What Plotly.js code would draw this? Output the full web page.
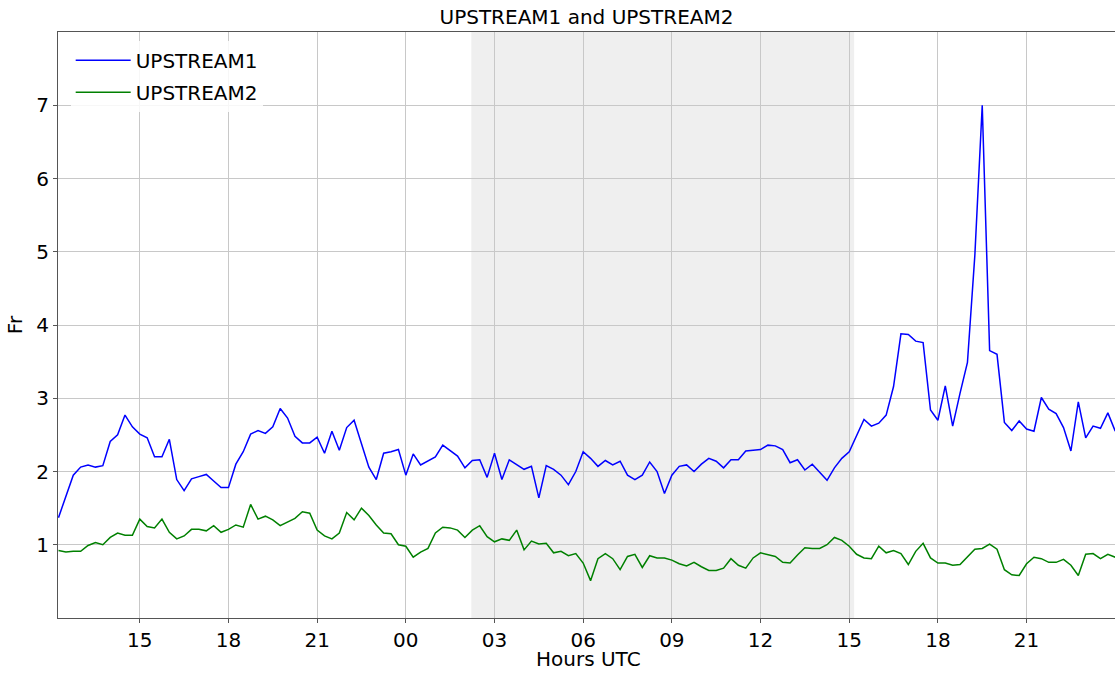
<!DOCTYPE html>
<html>
<head>
<meta charset="utf-8">
<script src="https://cdn.plot.ly/plotly-3.0.1.min.js"></script>
<style>html,body{margin:0;padding:0;background:#fff;}#chart{width:1115px;height:673px;}</style>
</head>
<body>
<div id="chart"></div>
<script>
// 15-minute samples starting 12:15 on day 1
const startTime = "2021-01-01T12:15:00";
const stepMinutes = 15;

const upstream1 = [
  1.37, 1.66, 1.95, 2.06, 2.09, 2.06, 2.08, 2.41, 2.50, 2.77,
  2.61, 2.51, 2.46, 2.20, 2.20, 2.44, 1.89, 1.74, 1.90, 1.93,
  1.96, 1.87, 1.78, 1.78, 2.10, 2.27, 2.51, 2.56, 2.52, 2.61,
  2.86, 2.73, 2.48, 2.39, 2.39, 2.47, 2.25, 2.55, 2.29, 2.60,
  2.70, 2.38, 2.06, 1.89, 2.25, 2.27, 2.30, 1.95, 2.24, 2.09,
  2.14, 2.20, 2.36, 2.29, 2.21, 2.05, 2.15, 2.16, 1.92, 2.25,
  1.89, 2.16, 2.10, 2.03, 2.07, 1.64, 2.08, 2.03, 1.95, 1.82,
  2.00, 2.27, 2.18, 2.07, 2.15, 2.09, 2.14, 1.95, 1.89, 1.95,
  2.13, 2.00, 1.70, 1.95, 2.07, 2.09, 2.00, 2.10, 2.18, 2.14,
  2.05, 2.16, 2.16, 2.28, 2.29, 2.30, 2.36, 2.35, 2.30, 2.12,
  2.16, 2.02, 2.10, 1.99, 1.88, 2.05, 2.18, 2.27, 2.48, 2.71,
  2.62, 2.66, 2.77, 3.16, 3.88, 3.87, 3.78, 3.76, 2.84, 2.70,
  3.17, 2.62, 3.07, 3.49, 4.95, 7.00, 3.65, 3.60, 2.67, 2.56,
  2.69, 2.58, 2.55, 3.01, 2.85, 2.79, 2.60, 2.28, 2.95, 2.46,
  2.62, 2.59, 2.80, 2.55
];

const upstream2 = [
  0.92, 0.90, 0.91, 0.91, 0.99, 1.03, 1.00, 1.10, 1.16, 1.13,
  1.13, 1.35, 1.25, 1.23, 1.35, 1.17, 1.08, 1.12, 1.21, 1.21,
  1.19, 1.26, 1.17, 1.21, 1.27, 1.24, 1.55, 1.35, 1.39, 1.34,
  1.26, 1.31, 1.36, 1.45, 1.43, 1.20, 1.12, 1.08, 1.16, 1.44,
  1.34, 1.50, 1.40, 1.27, 1.16, 1.15, 1.00, 0.98, 0.83, 0.90,
  0.95, 1.16, 1.24, 1.23, 1.20, 1.10, 1.20, 1.26, 1.11, 1.04,
  1.08, 1.06, 1.20, 0.93, 1.05, 1.01, 1.02, 0.89, 0.91, 0.85,
  0.88, 0.75, 0.51, 0.81, 0.88, 0.81, 0.66, 0.84, 0.87, 0.69,
  0.85, 0.82, 0.82, 0.79, 0.74, 0.71, 0.76, 0.70, 0.65, 0.65,
  0.68, 0.81, 0.72, 0.68, 0.82, 0.89, 0.86, 0.84, 0.76, 0.75,
  0.86, 0.96, 0.95, 0.95, 1.00, 1.10, 1.06, 0.98, 0.87, 0.82,
  0.81, 0.98, 0.89, 0.92, 0.88, 0.73, 0.91, 1.02, 0.82, 0.75,
  0.75, 0.72, 0.73, 0.83, 0.94, 0.95, 1.01, 0.94, 0.66, 0.59,
  0.58, 0.74, 0.83, 0.81, 0.76, 0.76, 0.80, 0.72, 0.58, 0.87,
  0.88, 0.81, 0.87, 0.83
];

const seriesNames = ["UPSTREAM1", "UPSTREAM2"];
const xTitle = "Hours UTC";
const shadeStart = "2021-01-02T02:13:00";
const shadeEnd = "2021-01-02T15:10:00";
const xRange = ["2021-01-01T12:14:00", "2021-01-02T23:59:30"];

function pad(n){ return (n < 10 ? "0" : "") + n; }
const t0 = new Date(startTime + "Z").getTime();
const times = upstream1.map((_, i) => {
  const d = new Date(t0 + i * stepMinutes * 60000);
  return d.getUTCFullYear() + "-" + pad(d.getUTCMonth()+1) + "-" + pad(d.getUTCDate()) +
    " " + pad(d.getUTCHours()) + ":" + pad(d.getUTCMinutes());
});

const font = "DejaVu Sans, Liberation Sans, sans-serif";

const traces = [
  {x: times, y: upstream1, name: seriesNames[0], type: "scatter", mode: "lines",
   legendgroup: "a", line: {color: "#0000ff", width: 1.5}},
  {x: times, y: upstream2, name: seriesNames[1], type: "scatter", mode: "lines",
   legendgroup: "b", line: {color: "#008000", width: 1.5}}
];

const layout = {
  width: 1115, height: 673,
  margin: {l: 58, r: 0, t: 32, b: 55, pad: 0},
  paper_bgcolor: "#ffffff",
  plot_bgcolor: "rgba(0,0,0,0)",
  font: {family: font, size: 20, color: "#000"},
  title: {text: "UPSTREAM1 and UPSTREAM2", font: {family: font, size: 20, color: "#000"},
          x: 0.526, xanchor: "center", y: 0.975, yanchor: "middle", yref: "container"},
  xaxis: {
    type: "date", range: xRange,
    tick0: "2021-01-01 00:00", dtick: 3 * 3600000, tickformat: "%H",
    showgrid: true, gridcolor: "#c8c8c8", gridwidth: 1,
    showline: true, linecolor: "#555", linewidth: 1, mirror: true,
    ticks: "outside", ticklen: 4, tickcolor: "#555",
    tickfont: {family: font, size: 20, color: "#000"},
    zeroline: false
  },
  yaxis: {
    range: [0, 8], tickvals: [1, 2, 3, 4, 5, 6, 7],
    showgrid: true, gridcolor: "#c8c8c8", gridwidth: 1,
    showline: true, linecolor: "#555", linewidth: 1, mirror: false,
    ticks: "outside", ticklen: 4, tickcolor: "#555",
    tickfont: {family: font, size: 20, color: "#000"},
    zeroline: false,
    title: {text: "Fr", font: {family: font, size: 20, color: "#000"}, standoff: 8}
  },
  annotations: [{
    text: xTitle, xref: "paper", yref: "paper", x: 0.502, y: 0,
    xanchor: "center", yanchor: "bottom", yshift: -54, borderpad: 0, showarrow: false,
    font: {family: font, size: 20, color: "#000"}
  }],
  shapes: [{
    type: "rect", xref: "x", yref: "paper", x0: shadeStart, x1: shadeEnd, y0: 0, y1: 1,
    fillcolor: "#efefef", line: {width: 0}, layer: "below"
  }],
  legend: {
    x: 0.012, y: 0.985, xanchor: "left", yanchor: "top",
    bgcolor: "rgba(255,255,255,0.85)", borderwidth: 0,
    itemwidth: 55, tracegroupgap: 3,
    font: {family: font, size: 20, color: "#000"}
  },
  showlegend: true
};

Plotly.newPlot("chart", traces, layout, {displayModeBar: false, staticPlot: true});
</script>
</body>
</html>
